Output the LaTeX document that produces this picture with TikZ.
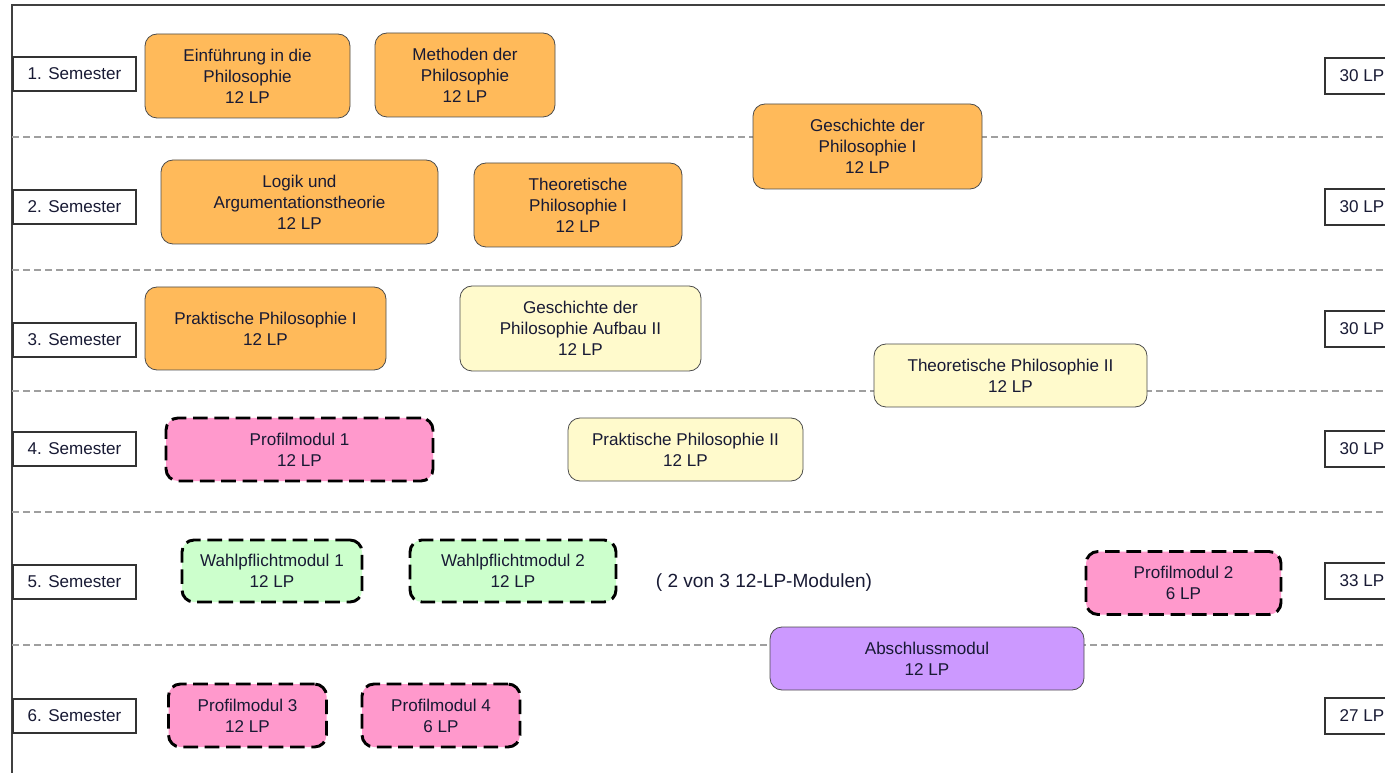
\documentclass[tikz,border=0pt]{standalone}
\usepackage{fontspec}
\setmainfont{Liberation Sans}
\usepackage{xcolor}
\definecolor{textnavy}{RGB}{24,26,52}
\definecolor{pflicht}{HTML}{FFBA5A}
\definecolor{aufbau}{HTML}{FFFACC}
\definecolor{profil}{HTML}{FF99CC}
\definecolor{wahl}{HTML}{CCFFCC}
\definecolor{abschluss}{HTML}{CC99FF}

\begin{document}
\begin{tikzpicture}[x=0.75pt,y=-0.75pt,
  every node/.style={font=\fontsize{12.8}{15.75}\selectfont, text=textnavy, align=center, inner sep=0pt},
  dim/.style 2 args={minimum width=#1*0.75pt, minimum height=#2*0.75pt},
  semester/.style={draw=black!80, line width=0.8pt, fill=white, dim={123}{34}},
  lpbox/.style={draw=black!80, line width=0.8pt, fill=white, dim={74}{36}},
  modul/.style={draw=black!70, line width=0.6pt, rounded corners=9pt},
  profilmodul/.style={modul, draw=black, line width=2.2pt, dash pattern=on 11pt off 5pt, fill=profil},
  wahlmodul/.style={profilmodul, fill=wahl},
  trenner/.style={gray!75, line width=1.1pt, dash pattern=on 5.25pt off 3pt}]

\clip (0,0) rectangle (1385,773);

\draw[black!75, line width=1.1pt] (12,773) -- (12,5) -- (1385,5);

\foreach \y in {137,270,391,512,645}
\draw[trenner] (12,\y) -- (1385,\y);

\foreach \n/\y/\ly/\lp in {1/74/76/30, 2/207/207/30, 3/340/329/30, 4/449/449/30, 5/582/581/33, 6/716/716/27}
{
\node[semester] (sem\n) at (74.5,\y) {\n. Semester};
\node[lpbox] (lp\n) at (1362,\ly) {\lp\ LP};
}

% 1. und 2. Semester
\node[modul, fill=pflicht, dim={205}{84}] (einf) at (247.5,76) {Einführung in die\\Philosophie\\12 LP};
\node[modul, fill=pflicht, dim={180}{84}] (meth) at (465,75) {Methoden der\\Philosophie\\12 LP};
\node[modul, fill=pflicht, dim={229}{85}] (gesch1) at (867.5,146.5) {Geschichte der\\Philosophie I\\12 LP};
\node[modul, fill=pflicht, dim={277}{84}] (logik) at (299.5,202) {Logik und\\Argumentationstheorie\\12 LP};
\node[modul, fill=pflicht, dim={208}{84}] (theo1) at (578,205) {Theoretische\\Philosophie I\\12 LP};

% 3. und 4. Semester
\node[modul, fill=pflicht, dim={241}{83}] (prak1) at (265.5,328.5) {Praktische Philosophie I\\12 LP};
\node[modul, fill=aufbau, dim={241}{85}] (gesch2) at (580.5,328.5) {Geschichte der\\Philosophie Aufbau II\\12 LP};
\node[modul, fill=aufbau, dim={273}{63}] (theo2) at (1010.5,375.5) {Theoretische Philosophie II\\12 LP};
\node[modul, fill=aufbau, dim={235}{63}] (prak2) at (685.5,449.5) {Praktische Philosophie II\\12 LP};
\node[profilmodul, dim={267}{63}] (prof1) at (299.5,449.5) {Profilmodul 1\\12 LP};

% 5. und 6. Semester
\node[wahlmodul, dim={180}{62}] (wahl1) at (272,571) {Wahlpflichtmodul 1\\12 LP};
\node[wahlmodul, dim={206}{62}] (wahl2) at (513,571) {Wahlpflichtmodul 2\\12 LP};
\node[font=\fontsize{14.3}{17}\selectfont] (hinweis) at (764,583) {( 2 von 3 12-LP-Modulen)};
\node[profilmodul, dim={195}{63}] (prof2) at (1183.5,583) {Profilmodul 2\\6 LP};
\node[modul, fill=abschluss, dim={314}{63}] (absch) at (927,658.5) {Abschlussmodul\\12 LP};
\node[profilmodul, dim={158}{63}] (prof3) at (247.5,715.5) {Profilmodul 3\\12 LP};
\node[profilmodul, dim={158}{63}] (prof4) at (441,715.5) {Profilmodul 4\\6 LP};
\end{tikzpicture}
\end{document}
